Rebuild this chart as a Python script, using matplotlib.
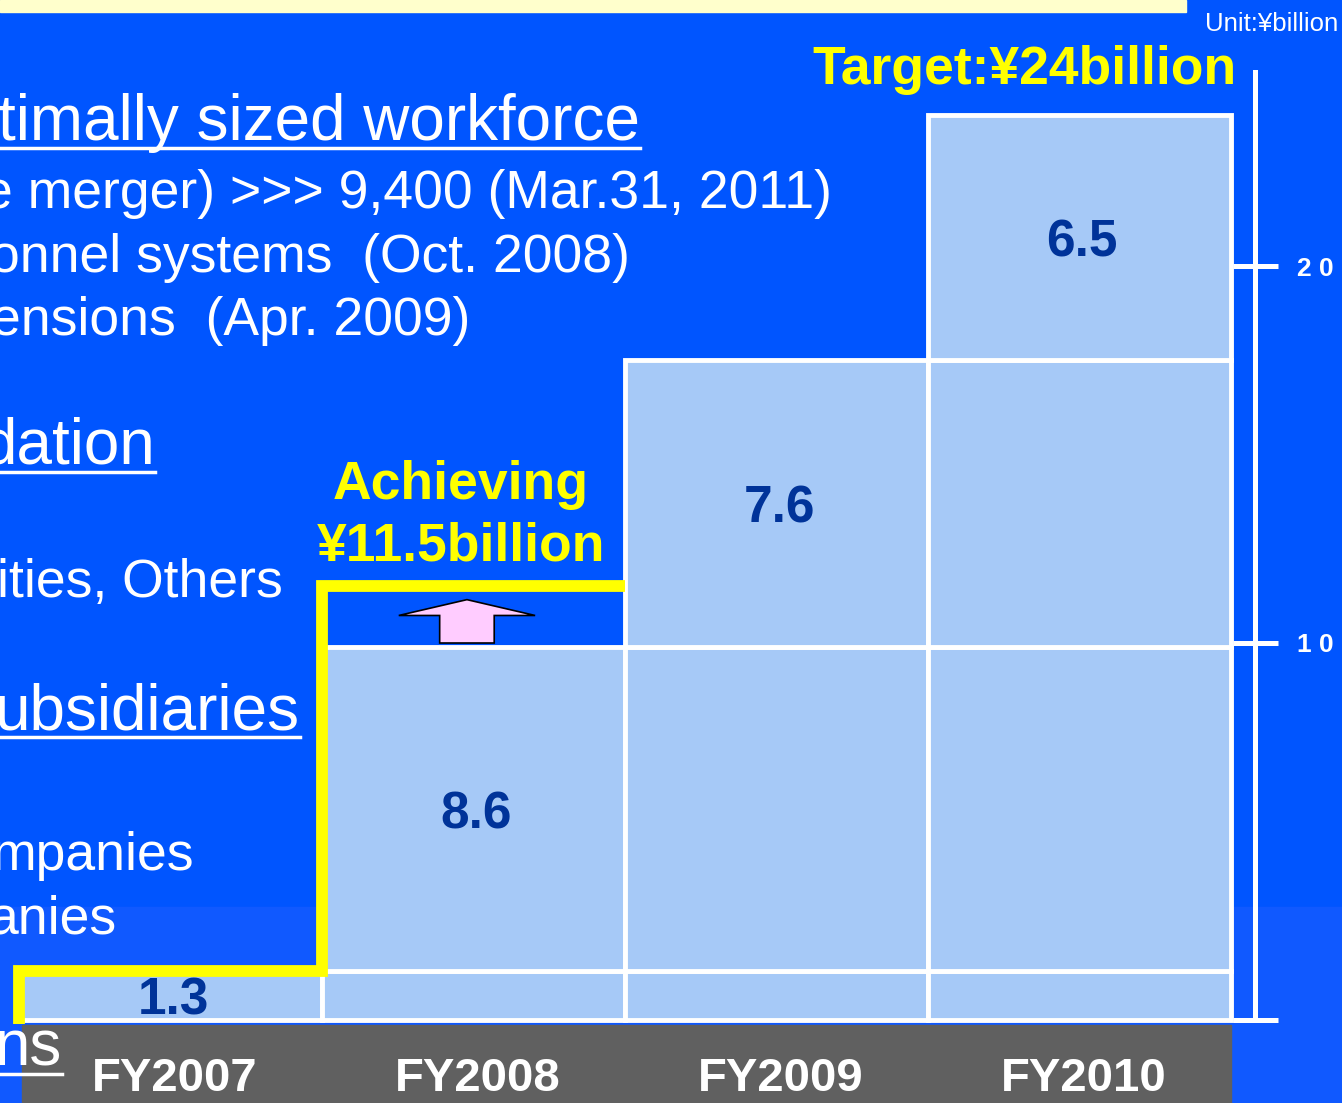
import matplotlib.pyplot as plt
from matplotlib.patches import Rectangle, FancyArrow
from matplotlib.lines import Line2D
import numpy as np

# data (unit: ¥billion)
years = ['FY2007', 'FY2008', 'FY2009', 'FY2010']
increments = [1.3, 8.6, 7.6, 6.5]
achieved_fy2008 = 11.5
target = 24
axis_ticks = [0, 10, 20]
axis_tick_labels = ['', '1 0', '2 0']

# slide text on the left (cut off by the slide edge)
slide_lines = [
    ('timally sized workforce', 640, 140, 46, True),
    ('e merger) >>> 9,400 (Mar.31, 2011)', 832, 208, 38.5, False),
    ('onnel systems  (Oct. 2008)', 630, 272, 38.5, False),
    ('ensions  (Apr. 2009)', 470, 335, 38.5, False),
    ('dation', 155, 464, 46, True),
    ('ities, Others', 283, 597, 38.5, False),
    ('ubsidiaries', 300, 729, 46, True),
    ('mpanies', 194, 870, 38.5, False),
    ('anies', 117, 933, 38.5, False),
    ('ns', 62, 1066, 46, True),
]

W, H = 1342, 1103
BLUE = '#0055FF'
BAR = '#A6C9F7'
DARK = '#003399'
YELLOW = '#FFFF00'

plt.rcParams['font.family'] = ['Liberation Sans', 'DejaVu Sans']

fig = plt.figure(figsize=(W / 100, H / 100), dpi=100)
fig.patch.set_facecolor(BLUE)
ax = fig.add_axes([0, 0, 1, 1])
ax.set_facecolor('none')

# chart geometry: first bar centre at x=170px, 303px per bar, zero at y=1020px, 37.7px per unit
x = np.arange(len(years))
ax.set_xlim(-170 / 303, (W - 170) / 303)
ax.set_ylim(-(H - 1020) / 37.7, 1020 / 37.7)


def fpos(px, py):
    return px / W, 1 - py / H


# background pieces of the slide
ax.axhspan(ax.get_ylim()[0], 3.0, color='#1059FF', zorder=0)
ax.add_patch(Rectangle((x[0] - 0.49, ax.get_ylim()[0]), len(x) - 0.01, -ax.get_ylim()[0] - 0.14,
                       color='#606060', zorder=1))
fig.patches.append(Rectangle(fpos(0, 12), 1186 / W, 12 / H, transform=fig.transFigure,
                             color='#FFFFCC', zorder=0))

# left text
texts = []
for s, xr, yb, size, ul in slide_lines:
    t = fig.text(*fpos(xr, yb), s, ha='right', va='baseline', color='white',
                 fontsize=size, zorder=3)
    texts.append((t, yb, ul))

# stacked cumulative bars
cum = np.concatenate([[0], np.cumsum(increments)])
for k, inc in enumerate(increments):
    ax.bar(x[k:], inc, bottom=cum[k], width=1.0, color=BAR, edgecolor='white',
           linewidth=3.5, zorder=2)
    ax.text(x[k] + 0.01, cum[k] + inc / 2 - 0.15, f'{inc:.1f}', ha='center', va='center',
            color=DARK, fontsize=37, fontweight='bold', zorder=4)

# yellow step line for the achieved savings
ax.plot([x[0] - 0.5, x[0] - 0.5, x[0] + 0.5, x[0] + 0.5, x[1] + 0.5],
        [-0.1, cum[1], cum[1], achieved_fy2008, achieved_fy2008],
        color=YELLOW, linewidth=8.5, solid_joinstyle='miter', solid_capstyle='butt', zorder=5)

# pink up arrow
ax.add_patch(FancyArrow(x[1] - 0.02, cum[2] + 0.1, 0, achieved_fy2008 - cum[2] - 0.45,
                        width=0.18, head_width=0.45, head_length=0.42,
                        length_includes_head=True, facecolor='#FFCCFF',
                        edgecolor='black', linewidth=1.2, zorder=4))

ax.text(x[1] - 0.04, achieved_fy2008 + 0.4, 'Achieving\n¥11.5billion', ha='center',
        va='bottom', color=YELLOW, fontsize=38.5, fontweight='bold', linespacing=1.3, zorder=6)
ax.text(x[-1] + 0.52, target + 1.2, f'Target:¥{target}billion', ha='right', va='center',
        color=YELLOW, fontsize=38.5, fontweight='bold', zorder=6)

for xi, yr in zip(x, years):
    ax.text(xi + 0.015, -1.57, yr, ha='center', va='center', color='white', fontsize=34,
            fontweight='bold', zorder=4)

# value axis on the right
for side in ['left', 'top', 'bottom']:
    ax.spines[side].set_visible(False)
ax.spines['right'].set_position(('data', 3.58))
ax.spines['right'].set_bounds(0, 25.15)
ax.spines['right'].set_color('white')
ax.spines['right'].set_linewidth(3.6)
ax.spines['right'].set_zorder(5)
ax.set_xticks([])
ax.yaxis.tick_right()
ax.set_yticks(axis_ticks, axis_tick_labels)
ax.tick_params(axis='y', direction='inout', length=32.4, width=3.6, color='white',
               labelcolor='white', labelsize=19, pad=14)
for lab in ax.get_yticklabels():
    lab.set_fontweight('bold')

fig.text(*fpos(1338, 24), 'Unit:¥billion', ha='right', va='center', color='white',
         fontsize=18.5)

# underlines for the headings
fig.canvas.draw()
renderer = fig.canvas.get_renderer()
for t, yb, ul in texts:
    if not ul:
        continue
    bb = t.get_window_extent(renderer)
    yy = 1 - (yb + 8) / H
    fig.add_artist(Line2D([max(bb.x0, 0) / W, bb.x1 / W], [yy, yy], transform=fig.transFigure,
                          color='white', linewidth=2.5, zorder=3))

fig.savefig('out.png', dpi=100, facecolor=fig.get_facecolor())
